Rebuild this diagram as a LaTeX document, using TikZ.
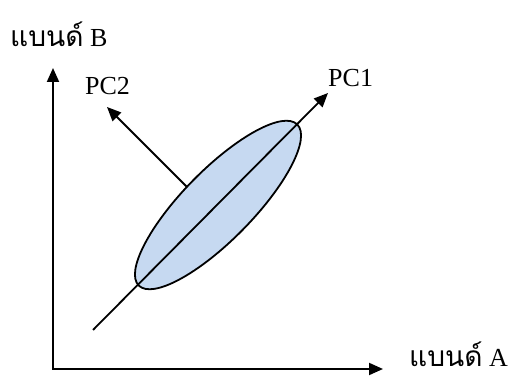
\documentclass[tikz,border=0pt]{standalone}
\usepackage{fontspec}
\setmainfont{Liberation Serif}
\newfontfamily\thaifont[Script=Thai,Scale=1.08]{Loma}
\usetikzlibrary{arrows.meta,shapes.geometric}
\definecolor{blobfill}{HTML}{C6D9F1}
\begin{document}
\begin{tikzpicture}[x=1pt,y=1pt,
  axis/.style={line width=2pt,{Triangle[length=14pt,width=12pt]}-{Triangle[length=14pt,width=12pt]}},
  pcline/.style={line width=1.8pt,-{Triangle[length=14pt,width=12pt]}},
  lbl/.style={inner sep=0pt,font=\fontsize{26}{30}\selectfont},
  blob/.style={ellipse,draw,line width=1.8pt,fill=blobfill,minimum width=226pt,minimum height=70pt,inner sep=0pt}]
\useasboundingbox (0,0) rectangle (512,379);
\coordinate (O) at (53,10);
\coordinate (ytip) at (53,311);
\coordinate (xtip) at (383,10);
\coordinate (pc1s) at (93,49);
\coordinate (pc1e) at (328,286);
\coordinate (pc2s) at (190,189);
\coordinate (pc2e) at (107,272);
\draw[pcline] (pc2s) -- (pc2e);
\node[blob, rotate=45.5] (ell) at (218,174) {};
\draw[pcline] (pc1s) -- (pc1e);
\draw[axis] (ytip) -- (O) -- (xtip);
\node[lbl,anchor=base west] (lb) at (10,332) {{\thaifont แบนด์} B};
\node[lbl,anchor=base west] (la) at (409,12) {{\thaifont แบนด์} A};
\node[lbl,anchor=base west] (l2) at (85,284) {PC2};
\node[lbl,anchor=base west] (l1) at (328,292) {PC1};
\end{tikzpicture}
\end{document}
